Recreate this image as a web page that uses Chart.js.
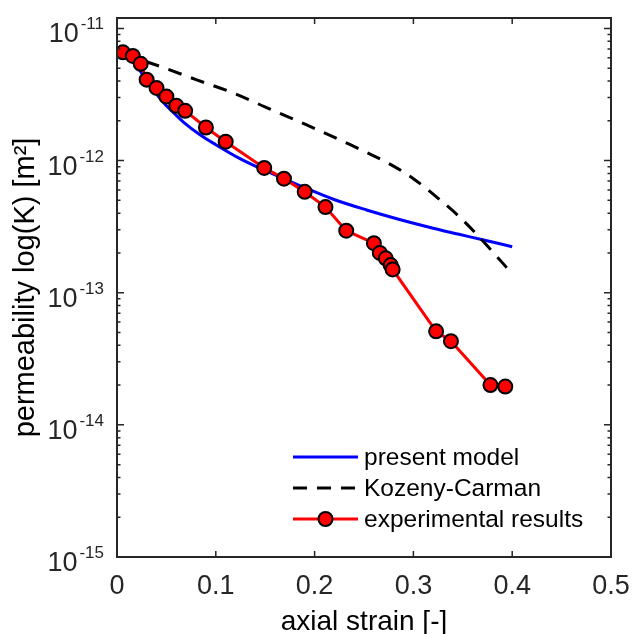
<!DOCTYPE html>
<html>
<head>
<meta charset="utf-8">
<script src="https://cdn.jsdelivr.net/npm/chart.js@4.4.0/dist/chart.umd.min.js"></script>
<style>
  body { margin: 0; background: #fff; }
  #wrap { width: 633px; height: 634px; }
</style>
</head>
<body>
<div id="wrap"><canvas id="permChart"></canvas></div>
<script>
// present model
var modelStrain = [0.006, 0.015, 0.025, 0.035, 0.042, 0.05, 0.06, 0.0675, 0.084, 0.10, 0.125, 0.145, 0.165, 0.1855, 0.219, 0.2526, 0.285, 0.32, 0.345, 0.369, 0.40];
var modelK = [6.6e-12, 5.8e-12, 4.6e-12, 3.65e-12, 3.05e-12, 2.6e-12, 2.2e-12, 1.95e-12, 1.57e-12, 1.32e-12, 1.03e-12, 8.75e-13, 7.5e-13, 6.45e-13, 5.1e-13, 4.23e-13, 3.6e-13, 3.08e-13, 2.78e-13, 2.53e-13, 2.23e-13];

// Kozeny-Carman
var kcStrain = [0.006, 0.044, 0.08, 0.118, 0.155, 0.192, 0.235, 0.2785, 0.30, 0.327, 0.345, 0.363, 0.38, 0.40];
var kcK = [6.4e-12, 5.15e-12, 4.1e-12, 3.24e-12, 2.45e-12, 1.86e-12, 1.33e-12, 9.2e-13, 7.3e-13, 5.04e-13, 3.85e-13, 2.82e-13, 2.05e-13, 1.39e-13];

// experimental results
var expStrain = [0.006, 0.016, 0.024, 0.030, 0.040, 0.050, 0.060, 0.069, 0.090, 0.110, 0.149, 0.169, 0.190, 0.211, 0.232, 0.260, 0.266, 0.272, 0.277, 0.279, 0.323, 0.338, 0.378, 0.393];
var expK = [6.6e-12, 6.2e-12, 5.4e-12, 4.1e-12, 3.55e-12, 3.05e-12, 2.6e-12, 2.38e-12, 1.78e-12, 1.39e-12, 8.8e-13, 7.3e-13, 5.8e-13, 4.45e-13, 2.95e-13, 2.37e-13, 2.0e-13, 1.82e-13, 1.62e-13, 1.5e-13, 5.1e-14, 4.3e-14, 2.0e-14, 1.95e-14];

// axes
var xTicks = [0, 0.1, 0.2, 0.3, 0.4, 0.5];
var xTickLabels = ["0", "0.1", "0.2", "0.3", "0.4", "0.5"];
var yDecades = [-15, -14, -13, -12, -11];

var FONT = "'Liberation Sans', Arial, sans-serif";
var INK = '#262626';

function pts(xs, ys) {
  return xs.map(function (x, i) { return { x: x, y: ys[i] }; });
}

// matlab style box, inward ticks, superscript labels, titles and legend
var matlabAxes = {
  id: 'matlabAxes',
  afterDraw: function (chart) {
    var ctx = chart.ctx, a = chart.chartArea;
    var xs = chart.scales.x, ys = chart.scales.y;
    ctx.save();
    ctx.strokeStyle = INK;
    ctx.lineWidth = 1.5;
    ctx.setLineDash([]);
    ctx.beginPath();
    xTicks.forEach(function (v) {
      var px = xs.getPixelForValue(v);
      ctx.moveTo(px, a.bottom); ctx.lineTo(px, a.bottom - 6);
      ctx.moveTo(px, a.top); ctx.lineTo(px, a.top + 6);
    });
    yDecades.forEach(function (d) {
      for (var m = 1; m <= 9; m++) {
        var v = m * Math.pow(10, d);
        if (v > ys.max) break;
        var py = ys.getPixelForValue(v);
        var len = m === 1 ? 7 : 3.5;
        ctx.moveTo(a.left, py); ctx.lineTo(a.left + len, py);
        ctx.moveTo(a.right, py); ctx.lineTo(a.right - len, py);
      }
    });
    ctx.stroke();
    ctx.lineWidth = 2;
    ctx.strokeRect(a.left, a.top, a.right - a.left, a.bottom - a.top);

    // x tick labels
    ctx.fillStyle = INK;
    ctx.font = '27px ' + FONT;
    ctx.textAlign = 'center';
    ctx.textBaseline = 'alphabetic';
    xTicks.forEach(function (v, i) {
      ctx.fillText(xTickLabels[i], xs.getPixelForValue(v), a.bottom + 37);
    });

    // y tick labels 10^n
    yDecades.forEach(function (d) {
      var py = ys.getPixelForValue(Math.pow(10, d));
      var right = a.left - 13;
      ctx.font = '17px ' + FONT;
      ctx.textAlign = 'right';
      var sup = '-' + Math.abs(d);
      var supW = ctx.measureText(sup).width;
      ctx.fillText(sup, right, py + 1);
      ctx.font = '27px ' + FONT;
      ctx.fillText('10', right - supW - 2, py + 14);
    });

    // axis titles
    ctx.fillStyle = '#000';
    ctx.font = '28px ' + FONT;
    ctx.textAlign = 'center';
    ctx.fillText('axial strain [-]', (a.left + a.right) / 2, a.bottom + 73);
    ctx.save();
    ctx.translate(34, (a.top + a.bottom) / 2);
    ctx.rotate(-Math.PI / 2);
    ctx.font = '29px ' + FONT;
    ctx.fillText('permeability log(K) [m\u00B2]', 0, 0);
    ctx.restore();

    // legend
    var x0 = a.left + 176, x1 = x0 + 65;
    chart.data.datasets.forEach(function (ds, i) {
      var y = a.bottom - 100 + i * 31;
      ctx.strokeStyle = ds.borderColor;
      ctx.lineWidth = ds.borderWidth;
      ctx.setLineDash(ds.borderDash || []);
      ctx.beginPath();
      ctx.moveTo(x0, y); ctx.lineTo(x1, y);
      ctx.stroke();
      ctx.setLineDash([]);
      if (ds.pointRadius > 0) {
        ctx.beginPath();
        ctx.arc((x0 + x1) / 2, y, ds.pointRadius, 0, Math.PI * 2);
        ctx.fillStyle = ds.pointBackgroundColor;
        ctx.fill();
        ctx.lineWidth = ds.pointBorderWidth;
        ctx.strokeStyle = ds.pointBorderColor;
        ctx.stroke();
      }
      ctx.fillStyle = '#000';
      ctx.font = '24.5px ' + FONT;
      ctx.textAlign = 'left';
      ctx.textBaseline = 'middle';
      ctx.fillText(ds.label, x1 + 6, y + 1);
      ctx.textBaseline = 'alphabetic';
    });
    ctx.restore();
  }
};

var ctxP = document.getElementById('permChart').getContext('2d');
var permChart = new Chart(ctxP, {
  type: 'line',
  data: {
    datasets: [{
      label: 'present model',
      data: pts(modelStrain, modelK),
      borderColor: '#0000ff',
      borderWidth: 3,
      pointRadius: 0,
      cubicInterpolationMode: 'monotone',
      order: 2
    }, {
      label: 'Kozeny-Carman',
      data: pts(kcStrain, kcK),
      borderColor: '#000000',
      borderWidth: 3,
      borderDash: [14, 10],
      pointRadius: 0,
      cubicInterpolationMode: 'monotone',
      order: 1
    }, {
      label: 'experimental results',
      data: pts(expStrain, expK),
      borderColor: '#ff0000',
      borderWidth: 3,
      pointRadius: 7,
      pointBackgroundColor: '#ff0000',
      pointBorderColor: '#000000',
      pointBorderWidth: 2,
      tension: 0,
      order: 0
    }]
  },
  options: {
    responsive: true,
    maintainAspectRatio: false,
    animation: false,
    layout: { padding: { left: 117, right: 22, top: 18, bottom: 77 } },
    plugins: { legend: { display: false }, tooltip: { enabled: false } },
    scales: {
      x: { type: 'linear', min: 0, max: 0.5, display: false },
      y: { type: 'logarithmic', min: 1e-15, max: 1.2e-11, display: false }
    }
  },
  plugins: [matlabAxes]
});
</script>
</body>
</html>
